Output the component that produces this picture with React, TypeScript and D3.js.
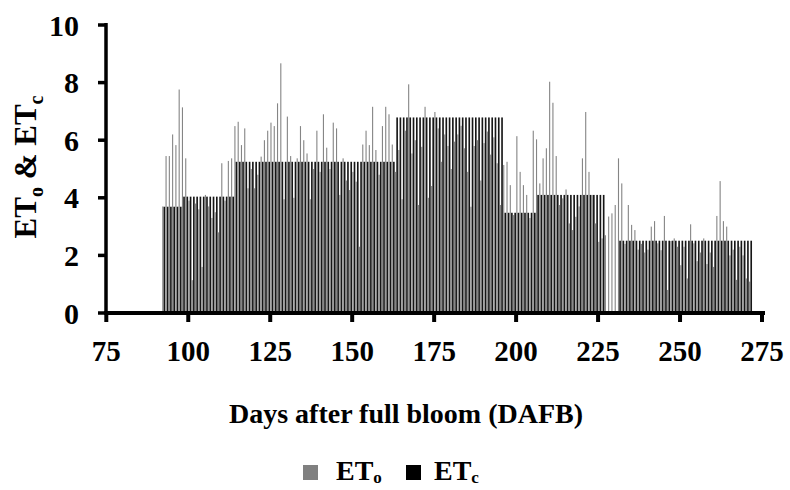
import React from 'react'
import * as d3 from 'd3'

// first day shown, one ETo value per day from there on
const firstDay = 92
const etoValues = [
  3.7, 5.45, 5.45, 6.2, 5.83, 7.76, 7.14, 5.37, 3.9, 1.14, // 92-101
  3.8, 3.6, 1.6, 4.1, 3.7, 3.3, 3.5, 2.8, 5.2, 3.9, // 102-111
  5.28, 5.37, 6.49, 6.64, 5.83, 6.41, 4.33, 5.0, 4.33, 4.8, // 112-121
  5.43, 6.0, 6.33, 6.61, 6.49, 7.28, 8.67, 3.95, 6.82, 5.45, // 122-131
  4.0, 5.37, 6.49, 6.0, 5.54, 3.95, 5.0, 6.33, 4.9, 6.9, // 132-141
  5.74, 5.0, 6.61, 6.41, 4.1, 5.37, 4.6, 4.27, 4.9, 4.56, // 142-151
  2.3, 5.85, 6.33, 5.83, 7.16, 5.66, 4.8, 6.49, 7.16, 6.9, // 152-161
  5.85, 4.9, 5.66, 3.95, 6.33, 7.94, 5.54, 6.0, 3.75, 5.77, // 162-171
  7.16, 4.0, 4.41, 6.98, 6.41, 5.25, 6.2, 5.8, 5.0, 5.95, // 172-181
  6.2, 6.5, 5.72, 4.9, 3.69, 5.8, 6.0, 4.6, 5.9, 6.3, // 182-191
  5.5, 6.1, 5.2, 3.75, 5.14, 5.25, 4.44, 3.4, 6.14, 4.9, // 192-201
  4.44, 4.1, 3.3, 6.33, 6.03, 4.5, 5.37, 5.72, 8.03, 7.3, // 202-211
  5.45, 3.75, 3.98, 4.29, 3.11, 2.88, 3.34, 3.7, 5.37, 6.98, // 212-221
  4.9, 4.1, 3.11, 2.47, 2.59, 2.7, 3.35, 3.46, 3.75, 5.37, // 222-231
  4.5, 2.4, 3.75, 3.06, 2.88, 2.2, 2.4, 2.1, 2.2, 3.0, // 232-241
  3.19, 2.42, 2.18, 3.37, 0.8, 2.5, 2.59, 2.3, 1.66, 2.3, // 242-251
  1.2, 3.08, 2.42, 1.8, 2.1, 2.59, 1.7, 2.1, 1.6, 3.37, // 252-261
  4.58, 3.19, 3.0, 2.0, 2.2, 1.15, 2.3, 2.0, 1.2, 1.09, // 262-271
]

// ETc is constant within each crop stage
const stageStart = [92, 98, 114, 163, 196, 206, 231]
const stageEnd = [97, 113, 162, 195, 205, 226, 271]
const stageEtc = [3.69, 4.04, 5.25, 6.79, 3.48, 4.1, 2.51]

const xTicks = [75, 100, 125, 150, 175, 200, 225, 250, 275]
const yTicks = [0, 2, 4, 6, 8, 10]

const font = "'Liberation Serif', 'Times New Roman', serif"

const etcFor = (day: number) => {
  const i = stageStart.findIndex((s, k) => day >= s && day <= stageEnd[k])
  return i < 0 ? 0 : stageEtc[i]
}

export default function App() {
  const width = 790
  const height = 490

  const x = d3.scaleLinear().domain([75, 275]).range([106.3, 762])
  const y = d3.scaleLinear().domain([0, 10]).range([313, 25])
  const step = x(76) - x(75)

  const data = etoValues.map((eto, i) => {
    const day = firstDay + i
    return { day, eto, etc: etcFor(day) }
  })

  return (
    <svg
      width={width}
      height={height}
      style={{ position: 'absolute', left: 0, top: 0, background: '#fff' }}
      fontFamily={font}
      fontWeight="bold"
    >
      {/* bars */}
      <g>
        {data.map(d => (
          <rect
            key={`o${d.day}`}
            x={x(d.day) + 0.2}
            y={y(d.eto)}
            width={1.1}
            height={y(0) - y(d.eto)}
            fill="#858585"
          />
        ))}
        {data.filter(d => d.etc > 0).map(d => (
          <rect
            key={`c${d.day}`}
            x={x(d.day) + 1.5}
            y={y(d.etc)}
            width={step * 0.5}
            height={y(0) - y(d.etc)}
            fill="#161616"
          />
        ))}
      </g>

      {/* y axis */}
      <line x1={106} x2={106} y1={23} y2={315} stroke="#000" strokeWidth={3.5} />
      {yTicks.map(t => (
        <g key={`y${t}`}>
          <line x1={98} x2={106} y1={y(t)} y2={y(t)} stroke="#000" strokeWidth={3.5} />
          <text x={79} y={y(t)} dy="0.35em" textAnchor="end" fontSize={30}>{t}</text>
        </g>
      ))}

      {/* x axis */}
      <line x1={104} x2={765} y1={313} y2={313} stroke="#000" strokeWidth={4} />
      {xTicks.map(t => (
        <g key={`x${t}`}>
          <line x1={x(t)} x2={x(t)} y1={313} y2={322} stroke="#000" strokeWidth={4} />
          <text x={x(t)} y={361} textAnchor="middle" fontSize={29}>{t}</text>
        </g>
      ))}

      {/* axis titles */}
      <text x={406} y={423} textAnchor="middle" fontSize={28}>Days after full bloom (DAFB)</text>
      <text transform="translate(36,167) rotate(-90)" textAnchor="middle" fontSize={31}>
        ET<tspan fontSize={20} dy={7}>o</tspan>
        <tspan dy={-7}> &amp; ET</tspan>
        <tspan fontSize={20} dy={7}>c</tspan>
      </text>

      {/* legend */}
      <rect x={303} y={465} width={15} height={15} fill="#808080" />
      <text x={336} y={480} fontSize={28}>
        ET<tspan fontSize={17} dy={3}>o</tspan>
      </text>
      <rect x={406} y={465} width={15} height={15} fill="#000" />
      <text x={434} y={480} fontSize={28}>
        ET<tspan fontSize={17} dy={3}>c</tspan>
      </text>
    </svg>
  )
}
